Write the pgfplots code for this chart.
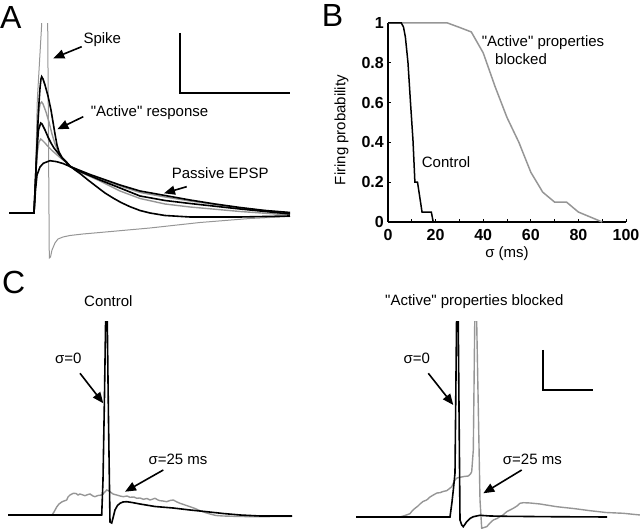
\documentclass[border=0pt]{standalone}
\usepackage{pgfplots}
\pgfplotsset{compat=1.18}
\usetikzlibrary{arrows.meta}
\usepackage{fontspec}
\setmainfont{Liberation Sans}[Ligatures=TeXOff]
\definecolor{tgray}{RGB}{150,150,150}
\newcommand{\tf}{\fontsize{15}{18}\selectfont}
\newcommand{\pf}{\fontsize{32}{36}\selectfont}
\begin{document}
\begin{tikzpicture}
\path[use as bounding box] (0pt,0pt) rectangle (640pt,529pt);
\pgfplotsset{trace/.style={hide axis, scale only axis, clip=true, anchor=south west}}
\tikzset{arr/.style={line width=1.6pt, -{Triangle[length=11pt,width=9pt]}},
  lab/.style={anchor=base west, inner sep=0pt, font=\tf}}

% ---------------- Panel B ----------------
\begin{axis}[anchor=south west, at={(388pt,307pt)}, scale only axis,
  width=238pt, height=199pt, xmin=0, xmax=100, ymin=0, ymax=1,
  axis lines*=left,
  axis line style={line width=2pt},
  xtick={0,20,40,60,80,100}, xticklabels={0,20,40,60,80,100},
  minor xtick={10,30,50,70,90},
  ytick={0,0.2,0.4,0.6,0.8,1}, yticklabels={0,0.2,0.4,0.6,0.8,1},
  tick align=inside, major tick length=3pt, minor tick length=3pt,
  tick style={black, line width=1pt},
  ticklabel style={font=\fontsize{16}{18}\selectfont\bfseries, inner sep=0pt},
  xticklabel style={anchor=north, yshift=-7pt},
  yticklabel style={anchor=east, xshift=-4pt},
  clip=false]
\addplot[tgray, line width=1.5pt] coordinates {(0,1) (25,1) (30,0.978) (35,0.955) (40,0.85) (45,0.68) (50,0.525) (55,0.4) (60,0.25) (65,0.15) (70,0.10) (75,0.10) (80,0.05) (85,0.025) (90,0)};
\addplot[black, line width=1.5pt] coordinates {(0,1) (5.6,1) (6.5,0.98) (7.3,0.93) (8.4,0.8) (9.4,0.61) (10.5,0.41) (11.3,0.2) (12.4,0.2) (14.3,0.05) (18.2,0.05) (19,0)};
\end{axis}

% ---------------- Panel A ----------------
\begin{axis}[trace, at={(0pt,267pt)}, width=295pt, height=238pt,
  xmin=0, xmax=295, ymin=-49, ymax=189]
\addplot[tgray, line width=1pt] coordinates {(34,0) (35.5,33) (37.3,113) (41.7,189) (42.3,215) (47.1,215) (47.7,189) (49.3,-45) (50.5,-44) (52,-37) (55,-30) (58,-26) (63,-24) (70,-22.5) (83,-21) (100,-19.5) (150,-15) (200,-9.5) (250,-5.5) (290,-3.5)};
\addplot[tgray, line width=1.4pt] coordinates {(34,0) (35.5,33) (37,68) (38.5,98) (40,109) (41.7,111) (43,109) (46,101) (49,91) (52,79) (55,69) (58,62) (62,55.5) (66,51.5) (70,46.5) (80,41) (100,32) (120,22) (140,14.5) (165,9) (190,6) (240,1.5) (290,-2)};
\addplot[tgray, line width=1.4pt] coordinates {(34,0) (35.5,31) (37,58) (39,71) (40.7,74) (42,73) (45,70) (48,66.5) (52,62.5) (56,59) (60,55.5) (65,51.5) (70,47) (80,42) (100,34) (120,27) (140,20.5) (165,16) (190,12) (240,5) (290,0)};
\addplot[black, line width=1.6pt] coordinates {(34,0) (35.5,33) (37,68) (38.5,103) (40,125) (41,134) (41.7,136.3) (43,134) (45,128) (48,117) (51,103) (53,91) (55,79) (57,68) (59,61) (62,55.5) (66,51.5) (70,47) (75,43) (80,39.5) (88,33) (96.7,26.3) (105,20) (113,15) (121,10.5) (130,6.3) (140,2.5) (150,0) (165,-2.5) (190,-4) (240,-4) (290,-3)};
\addplot[black, line width=1.6pt] coordinates {(34,0) (35.5,33) (37,65) (38.5,83) (40.7,90) (42,89) (45,83) (48,76) (51,70) (54,65) (58,60) (62,55) (66,51) (70,46.5) (80,41.5) (100,33) (120,25) (140,17) (165,12.5) (190,9.5) (240,4) (290,-1)};
\addplot[black, line width=1.6pt] coordinates {(9,0) (34,0) (35.5,23) (37,38) (40,46) (43.3,49.7) (50,52.3) (56.7,51.3) (63,49.5) (70,46.5) (80,42.5) (90,38.5) (100,35) (120,28) (140,22) (165,17.5) (190,13) (215,9) (240,5.5) (265,2.5) (290,0.5)};
\addplot[black, line width=1.5pt] coordinates {(180,180) (180,120) (290,120)};
\end{axis}

% ---------------- Panel C left ----------------
\begin{axis}[trace, at={(0pt,0pt)}, width=300pt, height=207.5pt,
  xmin=0, xmax=300, ymin=-14, ymax=193.5]
\addplot[tgray, line width=1.4pt] coordinates {(52,0) (54,3) (56.7,8) (59,11) (61.7,13) (64,14) (66.7,15) (68,18) (70,20) (73.3,21.7) (76,21.5) (78,20) (80,21) (83,20) (85,19.3) (88,20.5) (90,21) (93,19) (95,18.3) (98,19.5) (101.7,20) (104,22) (106.7,25) (109,24) (110,23.3) (113,21) (116.7,20) (120,19) (123.3,18.3) (127,19) (130,17.7) (134,18) (136.7,16.7) (140,17) (143.3,15.7) (147,16.5) (150,15) (153,16) (155,16.7) (158,15) (160,14.3) (163,14) (166.7,13.3) (170,14.5) (173.3,15) (177,13) (180,11.7) (185,10) (190,8.3) (195,6.5) (200,4.3) (205,2.5) (210,1) (216,-0.5) (223,-1) (240,-1.5) (256.7,-1.7) (275,-1.5) (292,-1.3)};
\addplot[black, line width=1.6pt] coordinates {(8,0) (101.7,0) (103,35) (104.5,120) (105.7,200) (107.2,200) (108.5,95) (110,-7) (111.7,-8) (113,-3) (115,5) (117.5,9.5) (120,11.7) (123,13) (126.7,13.3) (132,12.5) (140,11) (155,8.5) (173,7) (190,5) (206.7,3.3) (223,1.5) (240,0) (260,-1) (292,-1)};
\end{axis}

% ---------------- Panel C right ----------------
\begin{axis}[trace, at={(330pt,0pt)}, width=310pt, height=207.5pt,
  xmin=330, xmax=640, ymin=-12, ymax=195.5]
\addplot[tgray, line width=1.4pt] coordinates {(400,0) (405,1.5) (410,3.3) (412,6) (415,8.7) (418,11) (420,13) (423,15.5) (426.7,17) (430,20) (433.3,22) (437,24) (440,24.3) (443,25.5) (446.7,26.3) (449,28) (451.7,30.3) (453,33) (455,37) (457,39) (460,39.7) (464,40.5) (468.3,41) (470.5,43) (471.7,45.3) (473.3,67) (474.8,200) (476.6,200) (480,17) (481.7,-11.3) (484,-10.5) (486.7,-9.7) (490,-6) (493.3,-3) (497,-1.5) (500,0.3) (503,2) (506.7,5.3) (510,7) (513.3,8.7) (517,11) (520,13.7) (523.3,14.3) (530,14) (540,13) (556.7,10.3) (575,8.3) (590,6.3) (606,4.5) (623.3,3.7) (640,2)};
\addplot[black, line width=1.6pt] coordinates {(356,0) (450,0) (452,15) (453.3,27) (455,44) (456.6,200) (458.2,200) (460,-3) (461.7,-8) (463.3,-9.7) (466.7,-4.7) (470,-1.5) (473.3,0.3) (480,1.7) (490,1) (506.7,0.7) (550,0.3) (607,0)};
\addplot[black, line width=1.5pt] coordinates {(543,167) (543,127) (593,127)};
\end{axis}

\begin{scope}[x=1pt,y=1pt]
\node[anchor=base west, inner sep=0pt, font=\pf] at (0,{529-28.3}) {A};
\node[lab] at (83.3,{529-43.5}) {Spike};
\node[lab] at (90.7,{529-116.7}) {"Active" response};
\node[lab] at (171.7,{529-179}) {Passive EPSP};
\draw[arr] (81.7,{529-46.7}) -- (53.3,{529-58.3});
\draw[arr] (83.3,{529-116.7}) -- (57.3,{529-129.3});
\draw[arr] (186.7,{529-186.7}) -- (164,{529-193.3});

\node[anchor=base west, inner sep=0pt, font=\pf] at (321.7,{529-27}) {B};
\node[lab] at (481.7,{529-46.7}) {"Active" properties};
\node[lab] at (495,{529-65}) {blocked};
\node[lab] at (421.7,{529-167.7}) {Control};
\node[anchor=base, inner sep=0pt, font=\tf] at (507,{529-258}) {σ (ms)};
\node[rotate=90, inner sep=0pt, font=\tf] at (341.5,{529-130}) {Firing probability};

\node[anchor=base west, inner sep=0pt, font=\pf] at (2,{529-294}) {C};
\node[lab] at (84,{529-306.7}) {Control};
\node[lab] at (55,{529-363.5}) {σ=0};
\node[lab] at (148.3,{529-465}) {σ=25 ms};
\draw[arr] (80,{529-373.3}) -- (103.3,{529-403.3});
\draw[arr] (163.3,{529-470}) -- (125,{529-491.7});

\node[lab] at (385,{529-306}) {"Active" properties blocked};
\node[lab] at (403.3,{529-363.5}) {σ=0};
\node[lab] at (502.7,{529-464.5}) {σ=25 ms};
\draw[arr] (428.3,{529-373.3}) -- (453.3,{529-405});
\draw[arr] (521.7,{529-470}) -- (483.3,{529-493.3});
\end{scope}
\end{tikzpicture}
\end{document}
